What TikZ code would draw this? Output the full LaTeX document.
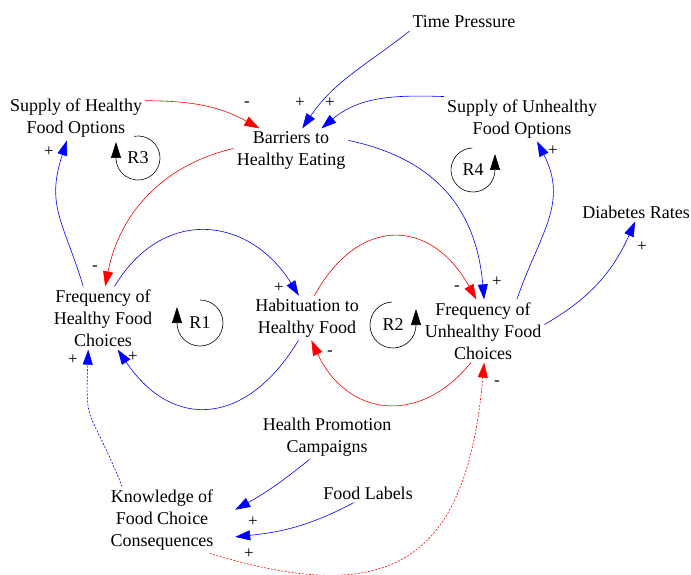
\documentclass[tikz,border=0pt]{standalone}
\usepackage{fontspec}
\setmainfont{Liberation Serif}
\usetikzlibrary{arrows.meta}

\begin{document}
\begin{tikzpicture}[x=1pt,y=1pt,
  var/.style={align=center,inner sep=3pt,font=\fontsize{18}{22}\selectfont},
  sgn/.style={inner sep=0pt,font=\fontsize{17}{18}\selectfont},
  plink/.style={blue,line width=0.6pt,-{Triangle[length=15pt,width=10pt]}},
  nlink/.style={red,line width=0.6pt,-{Triangle[length=15pt,width=10pt]}},
  knowl/.style={dash pattern=on 2pt off 1.5pt},
  loopl/.style={black,line width=0.6pt,-{Triangle[length=16pt,width=10pt]}}]
\useasboundingbox (0,0) rectangle (691,574);
% variables
\node[var] (tp) at (464,552) {Time Pressure};
\node[var] (shf) at (76,456) {Supply of Healthy\\Food Options};
\node[var] (bhe) at (291,423.5) {Barriers to\\Healthy Eating};
\node[var] (suf) at (522,455) {Supply of Unhealthy\\Food Options};
\node[var] (dr) at (636,362) {Diabetes Rates};
\node[var] (fhf) at (103,256) {Frequency of\\Healthy Food\\Choices};
\node[var] (hhf) at (307,256) {Habituation to\\Healthy Food};
\node[var] (fuf) at (483,243) {Frequency of\\Unhealthy Food\\Choices};
\node[var] (hpc) at (327,137) {Health Promotion\\Campaigns};
\node[var] (fl) at (368,81) {Food Labels};
\node[var,minimum width=146pt] (kfc) at (162,54) {Knowledge of\\Food Choice\\Consequences};
% loops
\node[var] (r3) at (138,416) {R3};
\node[var] (r4) at (473,404) {R4};
\node[var] (r1) at (200,251) {R1};
\node[var] (r2) at (393,249) {R2};
\draw[loopl] (r3.center) ++(100:22) arc[start angle=100,end angle=-180,radius=22] -- ++(0,16);
\draw[loopl] (r4.center) ++(92:22) arc[start angle=92,end angle=360,radius=22] -- ++(0,16);
\draw[loopl] (r1.center) ++(90:23) arc[start angle=90,end angle=-180,radius=23] -- ++(0,16);
\draw[loopl] (r2.center) ++(92:23) arc[start angle=92,end angle=360,radius=23] -- ++(0,16);
% links
\draw[nlink] (shf.14) to[out=0,in=151] (bhe.145);
\draw[plink] (tp.south west) to[out=218,in=56] (bhe.63);
\draw[plink] (suf.north west) to[out=178,in=40] (bhe.36);
\draw[nlink] (bhe.178) to[out=193,in=79] (fhf.86);
\draw[plink] (bhe.10) to[out=-12,in=95,looseness=1.1] (fuf.88);
\draw[plink] (fhf.122) to[out=107,in=252,looseness=1.2] (shf.248);
\draw[plink] (fhf.70) to[out=59,in=122,looseness=1.3] (hhf.110);
\draw[plink] (hhf.249) to[out=239,in=304,looseness=1.4] (fhf.-65);
\draw[nlink] (hhf.72) to[out=61,in=119,looseness=1.46] (fuf.102);
\draw[nlink] (fuf.249) to[out=231,in=295,looseness=1.32] (hhf.-79);
\draw[plink] (fuf.43) to[out=71,in=297,looseness=1.12] (suf.-56);
\draw[plink] (fuf.6) to[out=30,in=246] (dr.265);
\draw[plink,knowl] (kfc.140) .. controls +(112:90) and +(268:80) .. (fhf.245);
\draw[nlink,knowl] (kfc.-35) .. controls +(-17:190) and +(265:200) .. (fuf.-88);
\draw[plink] (hpc.232) to[out=219,in=29] (kfc.8);
\draw[plink] (fl.214) to[out=208,in=6] (kfc.-13);
% polarities
\node[sgn] (s1) at (300,471) {+};
\node[sgn] (s2) at (330,471) {+};
\node[sgn] (s3) at (247,470) {-};
\node[sgn] (s4) at (95,306) {-};
\node[sgn] (s5) at (49,422) {+};
\node[sgn] (s6) at (279,286) {+};
\node[sgn] (s7) at (133,217) {+};
\node[sgn] (s8) at (457,286) {-};
\node[sgn] (s9) at (330,221) {-};
\node[sgn] (s10) at (497,292) {+};
\node[sgn] (s11) at (553,423) {+};
\node[sgn] (s12) at (642,327) {+};
\node[sgn] (s13) at (73,214) {+};
\node[sgn] (s14) at (497,191) {-};
\node[sgn] (s15) at (253,52) {+};
\node[sgn] (s16) at (249,20) {+};
\end{tikzpicture}
\end{document}
